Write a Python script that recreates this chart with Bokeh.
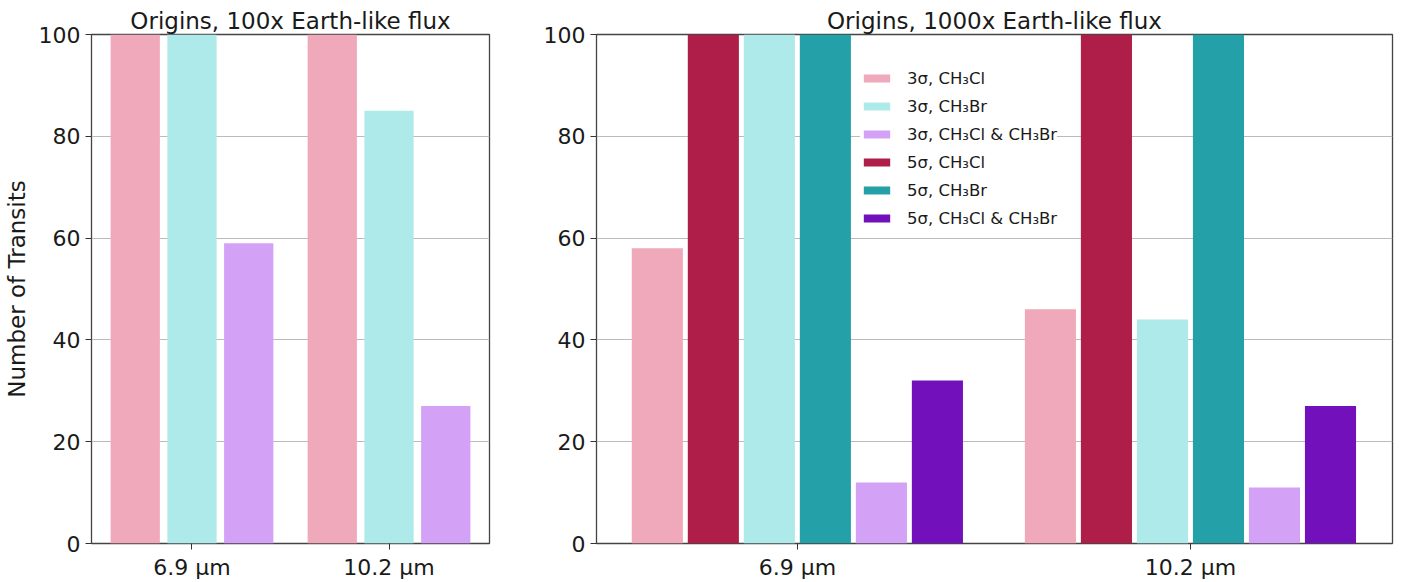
from bokeh.plotting import figure
from bokeh.layouts import row
from bokeh.models import ColumnDataSource, Range1d, FixedTicker, Legend, LegendItem
from bokeh.transform import dodge
from bokeh.embed import file_html
from bokeh.resources import INLINE

# ---------------- data ----------------
categories = ["6.9 \u03bcm", "10.2 \u03bcm"]

left_title = "Origins, 100x Earth-like flux"
right_title = "Origins, 1000x Earth-like flux"

# 100x flux (left)
l_3s_ch3cl = [100, 100]
l_3s_ch3br = [100, 85]
l_3s_both = [59, 27]

# 1000x flux (right)
r_3s_ch3cl = [58, 46]
r_5s_ch3cl = [100, 100]
r_3s_ch3br = [100, 44]
r_5s_ch3br = [100, 100]
r_3s_both = [12, 11]
r_5s_both = [32, 27]

y_ticks = [0, 20, 40, 60, 80, 100]

labels = {
    "3s_ch3cl": "3\u03c3, CH\u2083Cl",
    "3s_ch3br": "3\u03c3, CH\u2083Br",
    "3s_both": "3\u03c3, CH\u2083Cl & CH\u2083Br",
    "5s_ch3cl": "5\u03c3, CH\u2083Cl",
    "5s_ch3br": "5\u03c3, CH\u2083Br",
    "5s_both": "5\u03c3, CH\u2083Cl & CH\u2083Br",
}
colors = {
    "3s_ch3cl": "#EFA9BA",
    "3s_ch3br": "#AEEAEA",
    "3s_both": "#D3A1F5",
    "5s_ch3cl": "#AE1E48",
    "5s_ch3br": "#24A1A8",
    "5s_both": "#7210BB",
}

FONT = "DejaVu Sans"
idx = list(range(len(categories)))


def style(p, show_ylabel):
    p.xaxis.ticker = FixedTicker(ticks=idx)
    p.xaxis.major_label_overrides = {i: c for i, c in enumerate(categories)}
    p.yaxis.ticker = FixedTicker(ticks=y_ticks)
    for ax in (p.xaxis, p.yaxis):
        ax.major_label_text_font = FONT
        ax.major_label_text_font_size = "22px"
        ax.major_label_text_color = "#1a1a1a"
        ax.axis_line_color = None
        ax.major_tick_line_color = "#333333"
        ax.major_tick_out = 6
        ax.major_tick_in = 0
        ax.minor_tick_line_color = None
        ax.major_label_standoff = 5
    if show_ylabel:
        p.yaxis.axis_label = "Number of Transits"
        p.yaxis.axis_label_text_font = FONT
        p.yaxis.axis_label_text_font_size = "23px"
        p.yaxis.axis_label_text_font_style = "normal"
        p.yaxis.axis_label_text_color = "#1a1a1a"
        p.yaxis.axis_label_standoff = 6
    p.xgrid.grid_line_color = None
    p.ygrid.grid_line_color = "#bbbbbb"
    p.ygrid.grid_line_width = 1.2
    p.outline_line_color = "#444444"
    p.outline_line_width = 1.3
    p.title.text_font = FONT
    p.title.text_font_size = "23px"
    p.title.text_font_style = "normal"
    p.title.text_color = "#1a1a1a"
    p.title.align = "center"
    p.title.standoff = 2
    p.background_fill_color = "white"
    p.border_fill_color = "white"


# ---------------- left panel ----------------
src_l = ColumnDataSource(dict(x=idx, a=l_3s_ch3cl, b=l_3s_ch3br, c=l_3s_both))
p1 = figure(width=520, height=582, output_backend="svg", toolbar_location=None,
            x_range=Range1d(-0.51, 1.51), y_range=Range1d(0, 100),
            title=left_title, min_border_left=88, min_border_right=31,
            min_border_top=34, min_border_bottom=35)
style(p1, True)
wl = 0.25
stepl = 0.288
for k, col, off in (("3s_ch3cl", "a", -stepl), ("3s_ch3br", "b", 0.0), ("3s_both", "c", stepl)):
    p1.vbar(x=dodge("x", off, range=p1.x_range), top=col, width=wl, source=src_l,
            fill_color=colors[k], line_color=None)

# ---------------- right panel ----------------
src_r = ColumnDataSource(dict(x=idx, a=r_3s_ch3cl, b=r_5s_ch3cl, c=r_3s_ch3br,
                              d=r_5s_ch3br, e=r_3s_both, f=r_5s_both))
p2 = figure(width=881, height=582, output_backend="svg", toolbar_location=None,
            x_range=Range1d(-0.511, 1.514), y_range=Range1d(0, 100),
            title=right_title, min_border_left=76, min_border_right=9,
            min_border_top=34, min_border_bottom=35)
style(p2, False)
wr = 0.13
stepr = 0.1425
order = [("3s_ch3cl", "a"), ("5s_ch3cl", "b"), ("3s_ch3br", "c"),
         ("5s_ch3br", "d"), ("3s_both", "e"), ("5s_both", "f")]
renderers = {}
for i, (k, col) in enumerate(order):
    off = (i - 2.5) * stepr
    renderers[k] = p2.vbar(x=dodge("x", off, range=p2.x_range), top=col, width=wr,
                           source=src_r, fill_color=colors[k], line_color=None)

legend_order = ["3s_ch3cl", "3s_ch3br", "3s_both", "5s_ch3cl", "5s_ch3br", "5s_both"]
legend = Legend(items=[LegendItem(label=labels[k], renderers=[renderers[k]]) for k in legend_order],
                location=(264, 315))
legend.label_text_font = FONT
legend.label_text_font_size = "16.5px"
legend.label_text_color = "#1a1a1a"
legend.glyph_width = 33
legend.glyph_height = 10
legend.label_height = 20
legend.spacing = 8
legend.padding = 8
legend.margin = 0
legend.label_standoff = 14
legend.border_line_color = None
legend.background_fill_color = "white"
legend.background_fill_alpha = 1.0
p2.add_layout(legend, "center")

layout = row(p1, p2)
open("out.html", "w").write(file_html(layout, INLINE))
